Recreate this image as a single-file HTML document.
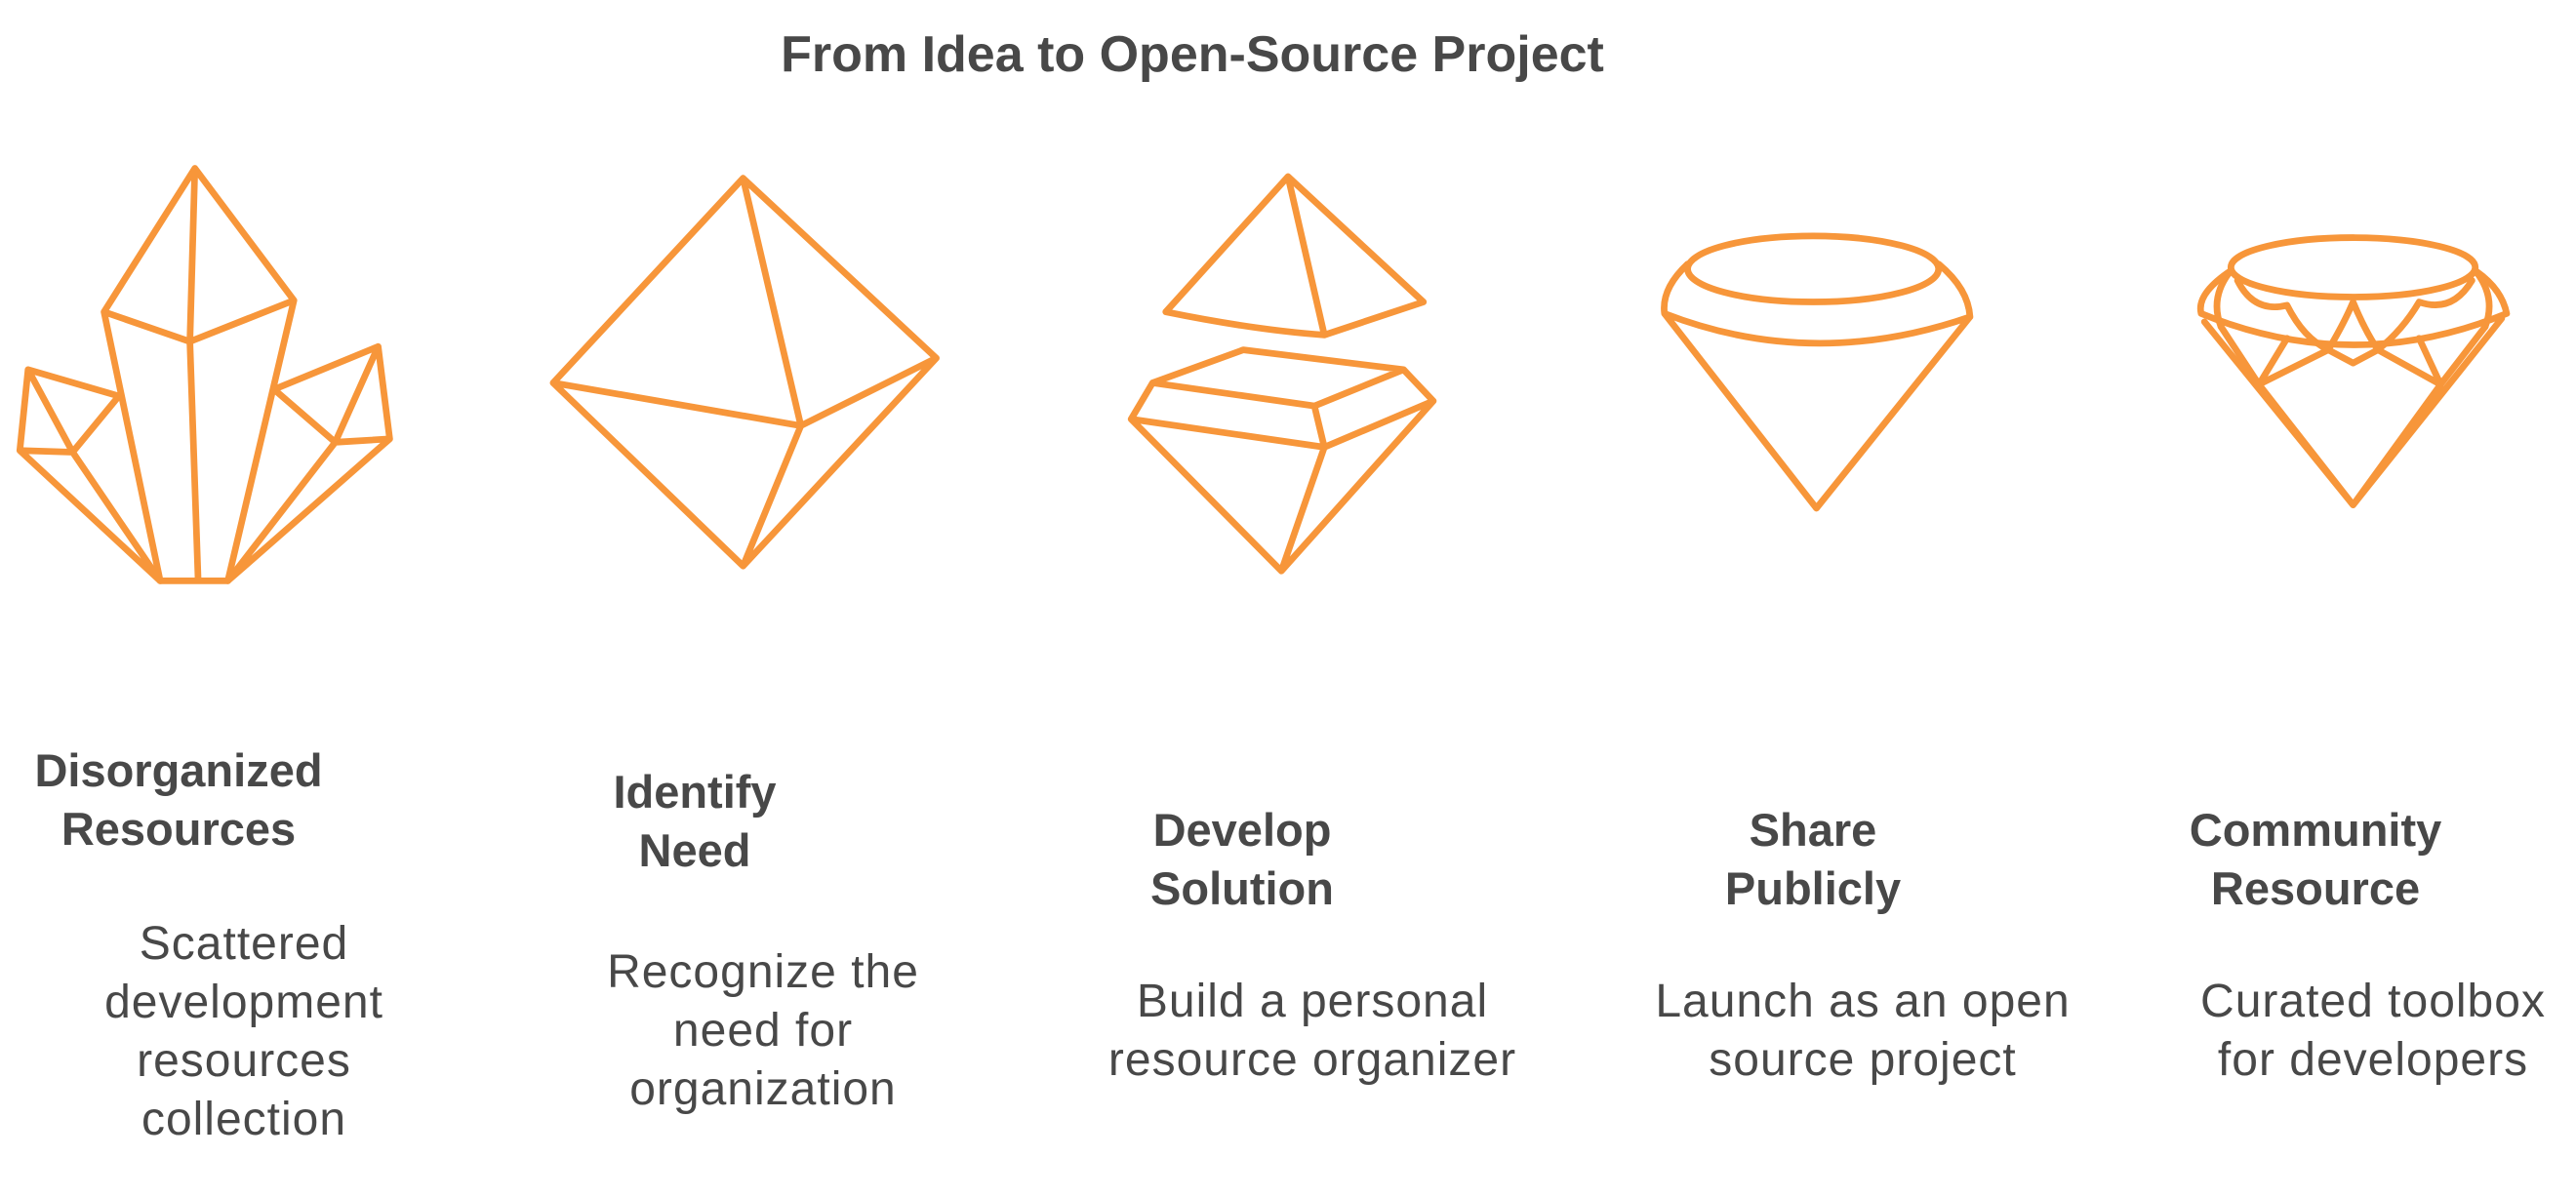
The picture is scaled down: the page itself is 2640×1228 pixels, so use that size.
<!DOCTYPE html>
<html><head><meta charset="utf-8"><style>
body{margin:0;background:#fff;width:2640px;height:1228px;overflow:hidden;position:relative;font-family:"Liberation Sans",sans-serif;color:#484848}
svg{position:absolute;left:0;top:0}
.t{position:absolute;text-align:center;white-space:nowrap;transform:translateX(-50%);font-size:48px;letter-spacing:1px;line-height:60px}
.h{font-weight:bold;font-size:47px;letter-spacing:0}
</style></head><body>
<svg width="2640" height="1228" viewBox="0 0 1560 726" preserveAspectRatio="none">
<g fill="none" stroke="#F7963A" stroke-width="4" stroke-linejoin="round" stroke-linecap="round">
<path d="M63,189 L118,102 L178,182 M63,189 L115,207 L178,182 M118,102 L115,207 L120,352 M63,189 L97,352 M178,182 L138,352 M97,352 L138,352"/>
<path d="M17,224 L12,273 L44,274 L72,240 Z M17,224 L44,274 M12,273 L97,352 M44,274 L97,352"/>
<path d="M166,236 L229,210 L236,266 L203,268 Z M229,210 L203,268 M203,268 L138,352 M236,266 L138,352"/>
<path d="M450,108 L567,217 L450,343 L335,232 Z M335,232 L485,258 L567,217 M450,108 L485,258 L450,343"/>
<path d="M706,189 L780,107 L862,183 M706,189 Q760,200 802,203 L862,183 M780,107 L802,203"/>
<path d="M698,232 L753,212 L850,224 M698,232 L796,246 L850,224 M850,224 L868,243 M698,232 L685,254 M796,246 L802,271 M685,254 L802,271 L868,243 M685,254 L776,346 L868,243 M802,271 L776,346"/>
<ellipse cx="1098" cy="163" rx="76" ry="20"/>
<path d="M1022,160 Q1006,175 1008,190 Q1098,225 1193,192 Q1192,175 1174,160 M1008,190 L1100,308 L1193,192"/>
<ellipse cx="1425" cy="162" rx="74" ry="18"/>
<path d="M1351,164 Q1330,178 1333,190 Q1425,228 1518,190 Q1515,175 1499,164"/>
<path d="M1351,164 Q1338,180 1345,198 M1499,164 Q1512,180 1505,198"/>
<path d="M1335,195 L1425,306 L1515,193 M1368,233 L1425,306 L1478,233"/>
<path d="M1355,170 Q1365,190 1385,185 Q1395,205 1410,212 Q1420,195 1425,183 Q1432,200 1440,212 Q1455,200 1465,183 Q1485,190 1497,170"/>
<path d="M1345,198 L1368,233 L1385,205 M1410,212 L1368,233 M1440,212 L1478,233 L1465,205 M1505,198 L1478,233 M1410,212 L1425,220 L1440,212"/>
</g>
</svg>
<div class="t h" style="left:1222px;top:26px;font-size:52px;line-height:60px">From Idea to Open-Source Project</div>

<div class="t h" style="left:183px;top:760px">Disorganized<br>Resources</div>
<div class="t" style="left:250px;top:938px">Scattered<br>development<br>resources<br>collection</div>

<div class="t h" style="left:712px;top:782px">Identify<br>Need</div>
<div class="t" style="left:782px;top:967px">Recognize the<br>need for<br>organization</div>

<div class="t h" style="left:1273px;top:821px">Develop<br>Solution</div>
<div class="t" style="left:1345px;top:997px">Build a personal<br>resource organizer</div>

<div class="t h" style="left:1858px;top:821px">Share<br>Publicly</div>
<div class="t" style="left:1909px;top:997px">Launch as an open<br>source project</div>

<div class="t h" style="left:2373px;top:821px">Community<br>Resource</div>
<div class="t" style="left:2432px;top:997px">Curated toolbox<br>for developers</div>
</body></html>
